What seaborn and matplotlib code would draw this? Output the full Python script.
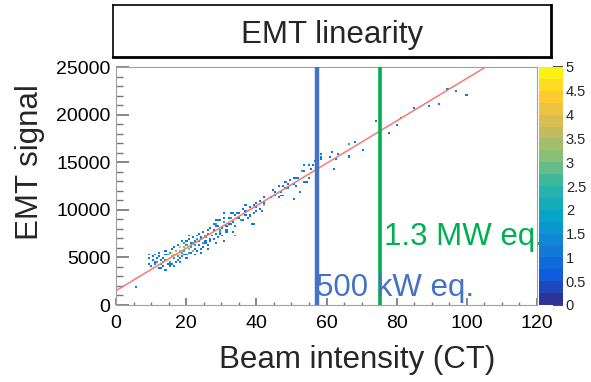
import matplotlib.pyplot as plt
import numpy as np
import pandas as pd
import seaborn as sns
from matplotlib.colors import LinearSegmentedColormap, ListedColormap
from matplotlib.ticker import MultipleLocator

sns.set_theme(style='white')
plt.rcParams['font.family'] = ['Liberation Sans', 'DejaVu Sans']

# Histogram entries: beam intensity (CT), EMT signal, entries per cell
BEAM = [
    5.4,
    9, 9.5, 9.2,
    10, 10.6, 10.3, 10.8,
    11, 11.5, 11.2, 11.8,
    12, 12.6, 12.3, 12.9, 12.2,
    13, 13.5, 13.2, 13.8, 13.6,
    14, 14.6, 14.3, 14.9, 14.2,
    15, 15.5, 15.9, 15.3, 15.6, 15.1,
    16, 16.5, 15.9, 16.3, 16.7, 16.2,
    17, 17.5, 17.2, 17.8, 18.2, 17.4,
    18, 18.6, 18.3, 18.9, 18.4, 18.1,
    19, 19.5, 19.2, 19.8, 19.6, 19.3,
    20, 20.6, 20.3, 20.9, 20.4, 20.1, 20.7,
    21, 21.5, 21.2, 21.8, 21.6, 21.3,
    22, 22.6, 22.3, 22.9, 22.4, 22.1, 22.7,
    23, 23.5, 23.2, 23.8, 23.6,
    24, 24.6, 24.3, 24.9, 24.4, 24.1,
    25, 25.5, 25.2, 25.8, 25.6, 25.3,
    26, 26.6, 26.3, 26.9, 26.4, 26.1,
    27.7, 27.2, 27.7, 28.7, 28.2,
    28, 28.6, 28.3, 28.9, 29.6, 28.4,
    29.1, 29.6, 29.2, 29.8, 29.4,
    30.6, 30.1, 31.1, 30.6, 30.2,
    31.6, 31.3, 32.0, 31.1, 31.5,
    32.5, 32.0, 32.5, 32.8,
    33.4, 33.0, 33.6, 33.0, 33.9,
    33.9, 34.4, 34.4, 33.9,
    35.3, 35.3, 35.8, 36.2,
    36.3, 36.8, 36.7,
    37.3, 36.8, 38.2,
    38.2, 38.0, 38.8,
    39.1, 39.1, 39.1,
    40.1, 40.1, 41.0,
    40.1, 41.0, 42.0,
    42.0, 42.5, 41.6,
    43.9, 42.5,
    45.3, 44.4, 46.3,
    45.3, 47.0,
    46.3, 48.8,
    47.0, 47.5,
    48.2, 48.2, 47.7,
    49.1, 49.6,
    50.5, 50.5, 50.5,
    51.5, 51.0,
    52.5, 52.0,
    52.9, 53.6, 54.4,
    54.8, 54.8, 53.4,
    53.4, 55.3,
    56.2, 56.7,
    57.5, 58.2,
    58.2, 58.2,
    61.0, 61.5,
    62.1, 62.7,
    63.2,
    66.2, 66.2, 66.2,
    68.2, 70.2, 74.3, 77.6, 80.2, 81.0, 84.9, 88.9, 92.2, 94.3, 96.9, 99.6,
]
SIGNAL = [
    1900,
    4300, 4900, 5200,
    4000, 4600, 5000, 4400,
    4200, 4800, 5300, 4500,
    3900, 4600, 5100, 4300, 5500,
    3800, 4400, 4900, 5300, 4100,
    3700, 4200, 4700, 5200, 5600,
    4000, 4500, 5000, 5400, 5900, 4300,
    4300, 4800, 5500, 5200, 6000, 4100,
    4500, 5000, 5700, 6300, 5300, 4700,
    4800, 5400, 6000, 6600, 5700, 4500,
    5000, 5600, 6100, 6700, 5300, 6400,
    5200, 5800, 6300, 6900, 5500, 4800, 7200,
    5400, 6000, 6500, 7100, 5700, 6200,
    5600, 6200, 6700, 7300, 5900, 6400, 5200,
    5700, 6300, 6900, 7500, 6600,
    5900, 6500, 7100, 7700, 6800, 5500,
    6100, 6700, 7200, 7900, 6400, 7000,
    6300, 6900, 7400, 8100, 6600, 5900,
    7950, 7250, 8500, 8820, 8470,
    6900, 7500, 8200, 8800, 7800, 6400,
    7080, 7780, 8300, 8800, 7400,
    6730, 8000, 8600, 9180, 7300,
    7600, 8300, 9000, 9700, 7900,
    8470, 8500, 9180, 9700,
    7780, 8650, 9400, 9700, 7250,
    8300, 9000, 9700, 7300,
    9180, 9700, 8820, 10100,
    8820, 9870, 9500,
    9000, 10400, 9530,
    9300, 10200, 8470,
    10580, 9600, 8470,
    10290, 9870, 10920,
    10600, 10100, 10580,
    10500, 11340, 9800,
    11270, 10700,
    11450, 12150, 12500,
    11800, 11970,
    11300, 12680,
    11400, 12400,
    12850, 12200, 11450,
    12260, 13030,
    13200, 12680, 11100,
    12500, 13380,
    11970, 13380,
    14080, 14600, 12850,
    14700, 13200, 14080,
    12900, 14250,
    14600, 15050,
    14670, 15550,
    15300, 15800,
    15550, 16000,
    14250, 15200,
    15830,
    15400, 15760, 16880,
    17050, 16350, 19220, 18070, 18900, 19680, 20730, 20900, 21080, 22720, 22550, 22060,
]
ENTRIES = [
    1,
    1, 1, 1,
    1, 1, 1, 1,
    1, 1, 1, 2,
    1, 1, 1, 1, 1,
    1, 2, 1, 1, 1,
    1, 1, 2, 2, 1,
    1, 2, 3, 2, 1, 1,
    1, 2, 5, 3, 1, 1,
    1, 2, 3, 1, 4, 1,
    1, 2, 4, 1, 3, 1,
    1, 2, 3, 1, 1, 2,
    1, 3, 2, 1, 2, 1, 1,
    1, 2, 1, 1, 2, 3,
    1, 2, 1, 1, 1, 2, 1,
    1, 1, 2, 1, 1,
    1, 2, 1, 1, 1, 1,
    1, 1, 2, 1, 1, 2,
    1, 1, 1, 1, 1, 1,
    1, 1, 1, 1, 2,
    1, 1, 1, 1, 2, 1,
    1, 2, 1, 1, 1,
    1, 1, 2, 1, 1,
    1, 1, 1, 1, 1,
    1, 1, 2, 1,
    1, 1, 1, 1, 1,
    1, 1, 1, 1,
    1, 1, 2, 1,
    1, 1, 1,
    1, 1, 1,
    1, 1, 1,
    1, 1, 1,
    1, 1, 1,
    1, 1, 2,
    1, 1, 1,
    1, 1,
    1, 1, 1,
    1, 1,
    1, 1,
    1, 1,
    1, 1, 1,
    1, 1,
    1, 1, 1,
    1, 1,
    1, 1,
    2, 1, 1,
    1, 1, 1,
    1, 1,
    1, 1,
    1, 1,
    1, 1,
    1, 1,
    1, 1,
    1,
    1, 1, 2,
    1, 1, 1, 1, 1, 1, 1, 1, 1, 1, 1, 1,
]

# Linear fit and reference beam powers
FIT_OFFSET = 1500
FIT_SLOPE = 223
LINE_500KW = 57.2
LINE_1_3MW = 75.2

X_TICKS = [0, 20, 40, 60, 80, 100, 120]
Y_TICKS = [0, 5000, 10000, 15000, 20000, 25000]
Z_TICKS = [0, 0.5, 1, 1.5, 2, 2.5, 3, 3.5, 4, 4.5, 5]

# ROOT kBird palette, 20 contour levels
BIRD_STOPS = [0.0, 0.125, 0.25, 0.375, 0.5, 0.625, 0.75, 0.875, 1.0]
BIRD_RED = [0.2082, 0.0592, 0.0780, 0.0232, 0.1802, 0.5301, 0.8186, 0.9956, 0.9764]
BIRD_GREEN = [0.1664, 0.3599, 0.5041, 0.6419, 0.7178, 0.7492, 0.7328, 0.7862, 0.9832]
BIRD_BLUE = [0.5293, 0.8684, 0.8385, 0.7914, 0.6425, 0.4662, 0.3499, 0.1968, 0.0539]


def main() -> None:
    """Draws the EMT linearity histogram."""
    bird = LinearSegmentedColormap.from_list(
        'kbird', list(zip(BIRD_STOPS, zip(BIRD_RED, BIRD_GREEN, BIRD_BLUE))))
    cmap = ListedColormap(bird((np.arange(20) + 0.5) / 20))

    fig = plt.figure(figsize=(5.91, 3.82), dpi=100)
    ax = fig.add_axes([116 / 591, 77 / 382, 421 / 591, 238 / 382])
    cax = fig.add_axes([539 / 591, 77 / 382, 24 / 591, 238 / 382])

    data = pd.DataFrame({'beam': BEAM, 'signal': SIGNAL, 'entries': ENTRIES})
    sns.histplot(
        data=data, x='beam', y='signal', weights='entries',
        bins=(np.arange(0, 120.01, 0.6), np.arange(0, 25001, 200)),
        cmap=cmap, vmin=0, vmax=5, cbar=True, cbar_ax=cax, ax=ax,
    )
    mesh = ax.collections[0]

    # Fit line
    fit_x = np.array([0, 120])
    sns.lineplot(x=fit_x, y=FIT_OFFSET + FIT_SLOPE * fit_x, color='#f27a7a', lw=1.1, ax=ax, zorder=4)

    # Beam power markers
    ax.axvline(LINE_500KW, color='#4472c4', lw=3.2, zorder=5)
    ax.axvline(LINE_1_3MW, color='#00b050', lw=2.6, zorder=5)
    ax.text(57.0, 900, '500 kW eq.', color='#4472c4', fontsize=22.5, va='baseline', ha='left',
            zorder=6, clip_on=False)
    ax.text(76.3, 6300, '1.3 MW eq.', color='#00b050', fontsize=22.5, va='baseline', ha='left',
            zorder=6, clip_on=False)

    ax.set_xlim(0, 120)
    ax.set_ylim(0, 25000)
    ax.set_xticks(X_TICKS)
    ax.set_yticks(Y_TICKS)
    ax.xaxis.set_minor_locator(MultipleLocator(5))
    ax.yaxis.set_minor_locator(MultipleLocator(1000))
    ax.tick_params(which='both', direction='in', color='#777777', labelcolor='black',
                   top=False, right=False, bottom=True, left=True, labelsize=14)
    ax.tick_params(axis='x', which='major', length=5, pad=7)
    ax.tick_params(axis='x', which='minor', length=2.5)
    ax.tick_params(axis='y', which='major', length=9, pad=4)
    ax.tick_params(axis='y', which='minor', length=5)
    for spine in ax.spines.values():
        spine.set_color('#a0a0a0')
        spine.set_linewidth(0.8)

    ax.set_xlabel('Beam intensity (CT)', fontsize=22.5)
    ax.set_ylabel('EMT signal', fontsize=22.5)
    ax.xaxis.set_label_coords((357 - 116) / 421, (305 - 360) / 238)
    ax.xaxis.label.set_va('center')
    ax.yaxis.set_label_coords((30 - 116) / 421, (305 - 162) / 238)
    ax.yaxis.label.set_va('center')

    # Colour bar
    cbar = mesh.colorbar
    cbar.set_ticks(Z_TICKS)
    cbar.set_ticklabels([f'{z:g}' for z in Z_TICKS])
    cbar.outline.set_visible(False)
    cax.tick_params(direction='in', length=7, color='#333333', labelsize=10.5, pad=2, right=True)

    # Title box
    tax = fig.add_axes([113 / 591, 1 - 57 / 382, 438 / 591, 52 / 382])
    tax.set_xticks([])
    tax.set_yticks([])
    for name, spine in tax.spines.items():
        spine.set_color('black')
        spine.set_linewidth(2.0 if name in ('bottom', 'right') else 1.2)
    tax.text(0.5, 0.5, 'EMT linearity', ha='center', va='center_baseline', fontsize=22.5,
             transform=tax.transAxes)

    fig.savefig('out.png', dpi=100, facecolor='white')


if __name__ == '__main__':
    main()
